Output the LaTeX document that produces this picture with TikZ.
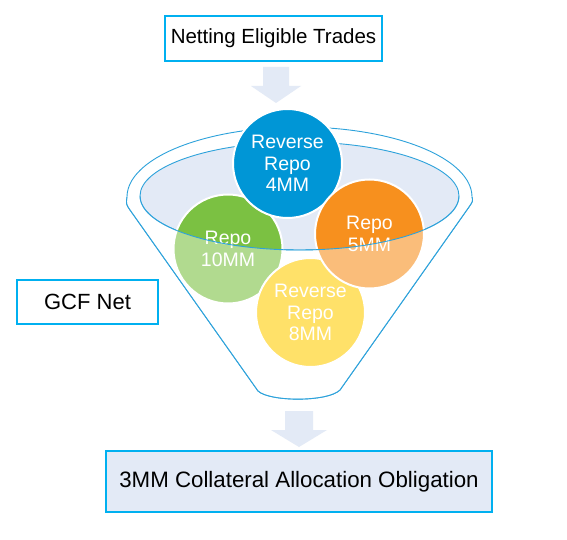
\documentclass[tikz,border=0pt]{standalone}
\usepackage{fontspec}
\setmainfont{Liberation Sans}
\begin{document}
\begin{tikzpicture}[x=1pt,y=-1pt,
  boxstyle/.style={draw=boxblue, line width=2pt, inner sep=0pt, text=black},
  bubble/.style={circle, draw=white, line width=2pt, minimum size=109pt, inner sep=0pt,
     text=white, align=center, font=\fontsize{19.5}{21.5}\selectfont},
  blockarrow/.style={fill=arrowfill, draw=none},
  funnelline/.style={draw=funnelblue, line width=0.9pt}
]
\definecolor{boxblue}{HTML}{00B0F0}
\definecolor{arrowfill}{HTML}{E3EAF6}
\definecolor{funnelblue}{HTML}{2DA2DB}
\definecolor{cblue}{HTML}{0096D6}
\definecolor{cgreen}{HTML}{7BC142}
\definecolor{corange}{HTML}{F7901E}
\definecolor{cyellow}{HTML}{FFCC00}
\useasboundingbox (0,0) rectangle (567,540);
\fill[white] (0,0) rectangle (567,540);

% boxes
\node[boxstyle, minimum width=217pt, minimum height=45pt, font=\fontsize{20.5}{24}\selectfont] (top) at (273.5,38.5) {Netting Eligible Trades};
\node[boxstyle, minimum width=141pt, minimum height=44pt, font=\fontsize{22}{24}\selectfont] (gcf) at (87.5,302) {GCF Net};
\node[boxstyle, fill=arrowfill, minimum width=386pt, minimum height=61pt, font=\fontsize{22.3}{24}\selectfont] (bot) at (299,481.5) {3MM Collateral Allocation Obligation};

% arrows
\fill[blockarrow] (263,67) -- (289,67) -- (289,86) -- (301,86) -- (276,103) -- (251,86) -- (263,86) -- cycle;
\fill[blockarrow] (285,411) -- (313,411) -- (313,430) -- (327,430) -- (299,447) -- (271,430) -- (285,430) -- cycle;

% funnel body
\path[funnelline, fill=white]
  plot[domain=180:0, samples=80] ({299.5+172.5*cos(\x)},{197-70*sin(\x)})
  .. controls (473,201) .. (469,207)
  -- (340,390) .. controls (328,402) and (270,402) .. (258,391)
  -- (130,210) .. controls (126,204) .. (127,197) -- cycle;

% inner opening
\path[funnelline, fill=arrowfill] (299.5,196) ellipse [x radius=159.5, y radius=54];

% bubbles
\node[bubble, fill=cgreen] (c10) at (228,249) {Repo\\10MM};
\node[bubble, fill=cyellow] (c8) at (310.5,312.5) {Reverse\\Repo\\8MM};
\node[bubble, fill=cblue] (c4) at (287.5,163.5) {Reverse\\Repo\\4MM};
\node[bubble, fill=corange] (c5) at (369.5,234) {Repo\\5MM};

% front of funnel (semi-transparent)
\fill[white, opacity=0.41]
  plot[domain=180:360, samples=80] ({299.5+159.5*cos(\x)},{196-54*sin(\x)})
  -- (472,197) .. controls (473,201) .. (469,207)
  -- (340,390) .. controls (328,402) and (270,402) .. (258,391)
  -- (130,210) .. controls (126,204) .. (127,197) -- cycle;
\draw[funnelline] plot[domain=180:360, samples=80] ({299.5+159.5*cos(\x)},{196-54*sin(\x)});
\draw[funnelline] (472,197) .. controls (473,201) .. (469,207)
  -- (340,390) .. controls (328,402) and (270,402) .. (258,391)
  -- (130,210) .. controls (126,204) .. (127,197);
\end{tikzpicture}
\end{document}
